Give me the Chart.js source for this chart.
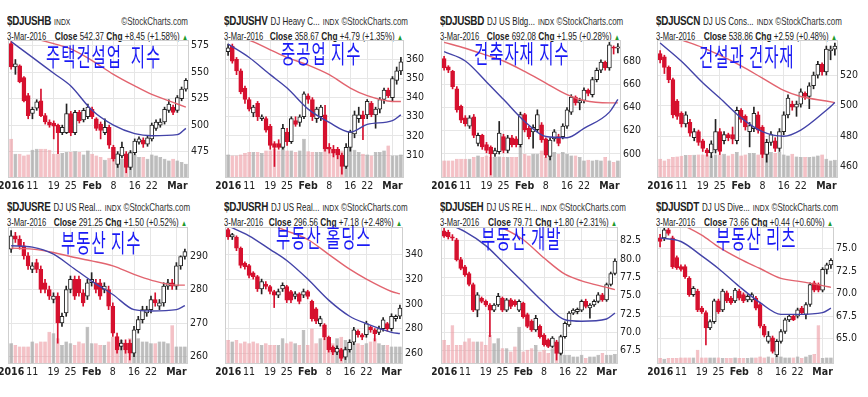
<!DOCTYPE html>
<html>
<head>
<meta charset="utf-8">
<script src="https://cdn.jsdelivr.net/npm/chart.js@4.4.0/dist/chart.umd.min.js"></script>
<style>
  body { margin: 0; background: #fff; width: 868px; height: 397px; overflow: hidden; position: relative;
         font-family: 'Liberation Sans', Arial, sans-serif; color: #222; }
  canvas { position: absolute; }
  .hd { position: absolute; transform: scaleX(0.76); transform-origin: left top; }
  .hd1, .hd2 { display: flex; justify-content: space-between; align-items: baseline; white-space: nowrap; }
  .hd1 { line-height: 14px; }
  .hd2 { line-height: 12px; font-size: 10.5px; margin-top: 1px; }
  .sym { font-weight: bold; font-size: 13px; letter-spacing: -0.4px; }
  .nm { font-size: 10.5px; margin-left: 4px; }
  .idx { font-size: 9px; margin-left: 4px; }
  .sc { font-size: 10.5px; color: #333; margin-left: 3px; }
  .dt { font-size: 10px; margin-right: 4px; }
  .hd2 b { font-size: 11px; }
  .up { color: #1f9a2a; font-size: 8px; }
  .kor { position: absolute; color: #1a1af5; font-family: 'Noto Sans CJK KR', sans-serif; font-size: 25px; font-weight: 400;
         line-height: 25px; letter-spacing: 1.5px; white-space: pre; transform: scaleX(0.62); transform-origin: left top; }
</style>
</head>
<body>
<script>
// trading days, 4 Jan 2016 .. 3 Mar 2016
const days = ['01-04','01-05','01-06','01-07','01-08','01-11','01-12','01-13','01-14','01-15',
  '01-19','01-20','01-21','01-22','01-25','01-26','01-27','01-28','01-29',
  '02-01','02-02','02-03','02-04','02-05','02-08','02-09','02-10','02-11','02-12',
  '02-16','02-17','02-18','02-19','02-22','02-23','02-24','02-25','02-26','02-29',
  '03-01','03-02','03-03'];
const tickDays = ['01-04','01-11','01-19','01-25','02-01','02-08','02-16','02-22','03-01'];
const tickTexts = ['2016','11','19','25','Feb','8','16','22','Mar'];
const maDays = ['01-04','01-11','01-19','01-25','02-01','02-08','02-16','02-22','03-01','03-03'];

// candles are [open, high, low, close]
const hbCandles = [[577,579,553,555],[555,562,548,558],[556,557,540,541],[545,546,522,523],[528,530,506,509],
  [511,517,506,515],[516,524,514,522],[523,534,508,509],[509,511,501,503],[503,505,498,500],
  [502,504,487,499],[500,501,473,493],[493,500,491,498],[493,520,492,511],
  [511,513,490,493],[493,514,491,512],[512,514,502,504],[505,516,503,514],[508,520,506,517],
  [515,517,506,508],[506,507,495,497],[501,503,487,495],[493,506,491,498],[498,500,478,481],
  [479,481,466,468],[463,475,460,473],[471,484,469,479],[473,475,455,460],[460,476,458,474],
  [474,487,472,485],[484,489,482,487],[486,488,479,482],[482,490,480,488],
  [487,502,485,500],[497,505,495,503],[500,506,498,503],[503,517,501,515],[514,524,512,520],
  [517,519,510,512],[514,528,512,526],[525,536,523,534],[534,544,532,542.4]];
const hbVolume = [115,70,70,65,68,82,85,85,85,82,70,70,72,75,75,78,75,68,80,70,65,60,52,58,55,60,55,50,60,68,60,60,55,68,65,60,55,50,55,50,45,40];
const hbMaBlue = [579,564,549,537,514,500,492,490,491,497];
const hbMaRed = [585,582,577,572,561,548,537,529,520,517];
const hbTicks = [475,500,525,550,575];

const hvCandles = [[364,368,362,366],[367,368,358,359],[360,361,352,354],[354,355,342,343],[345,346,337,339],
  [339,340,333,334],[332,336,330,335],[337,338,328,330],[329,331,328,330],[329,330,322,323],
  [325,326,313,315],[316,317,304,314],[316,318,313,314],[314,326,313,324],
  [322,324,315,317],[317,330,316,329],[328,330,325,326],[327,331,325,330],[330,343,329,342],
  [341,342,337,339],[339,340,328,330],[329,335,327,334],[330,336,328,335],[331,336,312,313],
  [314,316,311,313],[313,315,309,311],[313,314,308,310],[310,311,300,304],[304,316,303,314],
  [314,323,312,322],[321,333,319,331],[329,335,327,331],[331,333,318,329],
  [331,339,329,338],[337,338,330,331],[331,335,324,334],[334,340,332,339],[339,345,337,344],
  [344,345,340,341],[340,351,338,350],[349,356,347,354],[354,361,352,358.7]];
const hvVolume = [68,65,65,68,72,75,75,75,72,80,80,85,80,90,80,80,75,80,115,78,75,75,75,82,85,82,75,80,85,90,82,75,70,68,65,75,75,80,95,65,65,68];
const hvMaBlue = [368,361,352,345,334,327,322,326,328,331];
const hvMaRed = [372,370,365,361,357,352,345,341,338,338];
const hvTicks = [310,320,330,340,350,360];

const bdCandles = [[682,684,672,674],[675,676,670,672],[671,672,656,658],[656,658,636,638],[641,642,627,629],
  [631,633,624,626],[624,633,622,631],[632,634,614,616],[609,618,607,616],[616,617,604,606],
  [608,610,601,603],[606,607,582,600],[600,605,598,603],[602,628,600,618],
  [615,617,601,603],[603,616,601,614],[614,616,606,608],[613,615,606,608],[608,636,606,634],
  [634,635,619,621],[622,624,613,615],[619,625,605,623],[621,638,619,634],[625,627,610,612],
  [613,614,597,599],[598,614,595,612],[613,621,611,619],[615,617,607,609],[615,626,613,624],
  [624,640,622,638],[636,651,634,649],[649,650,642,644],[644,648,638,646],
  [646,657,644,655],[655,656,650,652],[651,666,649,664],[664,674,662,672],[672,681,670,679],
  [679,680,672,674],[674,696,672,694],[692,693,686,691],[691,695,687,692.1]];
const bdVolume = [50,50,50,55,55,55,55,60,65,60,65,60,60,62,60,60,60,60,95,70,65,70,70,80,60,65,75,70,75,70,65,65,60,50,52,50,52,50,60,50,45,50];
const bdMaBlue = [688,680,662,647,628,615,614,622,636,647];
const bdMaRed = [696,691,685,680,671,661,651,646,644,644];
const bdTicks = [600,620,640,660,680];

const cnCandles = [[534,536,528,530],[532,533,521,525],[525,526,515,517],[517,518,492,494],[503,504,491,493],
  [495,496,486,488],[488,496,486,494],[489,491,480,482],[479,485,477,483],[483,484,474,476],
  [477,478,470,472],[471,472,467,469],[469,477,466,475],[471,491,469,483],
  [483,485,468,470],[477,483,475,481],[481,482,477,479],[481,486,475,478],[477,499,475,497],
  [497,498,489,491],[493,494,484,486],[483,489,473,487],[485,499,483,495],[494,496,482,484],
  [486,487,466,468],[468,478,463,476],[476,483,474,481],[477,479,470,472],[472,485,470,483],
  [483,496,481,494],[494,507,492,505],[501,503,497,499],[499,503,493,501],
  [501,511,499,509],[508,509,504,506],[506,515,498,513],[513,522,511,520],[520,529,518,527],
  [527,528,520,522],[522,539,520,537],[536,539,530,537],[537,541,533,538.9]];
const cnVolume = [55,50,55,60,62,64,66,66,67,68,68,68,65,68,68,70,65,70,75,65,68,72,72,68,72,75,75,72,75,68,65,70,62,60,60,60,62,65,68,55,50,52];
const cnMaBlue = [541,529,515,505,492,483,480,484,497,502];
const cnMaRed = [548,543,538,533,526,518,510,506,503,502];
const cnTicks = [460,480,500,520];

const reCandles = [[292,297.5,291,296],[296,297,294,295],[295,296,292,293],[293,294,289,290],[290,291,286,287],
  [286,288,285,287],[288,289,285,286],[286,287,279,280],[282,283,279,280],[280,281,277,278],
  [277,279,276,278],[278,279,264,270],[270,273,269,272],[273,281,272,280],
  [280,284,279,283],[283,284,277,278],[283,284,278,279],[279,280,275,276],[278,283,277,282],
  [282,285,281,283],[282,283,279,280],[282,283,277,278],[280,282,279,281],[280,281,274,275],
  [275,276,266,267],[266,267,261,262],[263,265,262,264],[264,265,261,262],[264,265,259,261],
  [261,269,260,268],[268,272,267,271],[271,275,270,274],[273,275,272,274],
  [274,278,273,277],[277,279,275,276],[275,277,274,276],[276,282,275,281],[281,283,280,282],
  [282,283,280,281],[281,288,280,287],[287,290,286,289.8],[289.8,292,289,291.3]];
const reVolume = [60,55,50,50,50,65,60,65,65,95,90,75,55,65,60,55,65,60,110,60,60,55,55,65,80,65,70,60,75,65,75,65,65,60,60,65,65,60,115,50,50,50];
const reMaBlue = [293,292.6,290.5,287,282.5,278.5,274,273.6,274,275.2];
const reMaRed = [292.3,292,291,289.8,288.5,287,284.5,282.8,281.3,281.3];
const reTicks = [260,270,280,290];

const rhCandles = [[360,362,352,354],[354,357,352,356],[354,355,343,345],[345,346,329,331],[333,334,328,330],
  [331,332,321,323],[325,326,320,322],[322,323,310,312],[312,320,308,318],[316,318,312,314],
  [314,315,308,310],[310,311,297,307],[307,312,305,310],[312,317,310,315],
  [314,315,301,303],[310,311,301,303],[306,310,304,308],[308,309,300,302],[307,312,305,310],
  [310,311,304,306],[302,303,286,288],[296,297,284,286],[284,290,282,288],[283,284,271,273],
  [273,274,261,263],[265,266,259,261],[261,266,259,264],[263,264,254,256],[257,265,255,263],
  [263,271,261,269],[269,281,267,279],[278,279,273,275],[275,276,271,273],
  [275,286,273,284],[281,282,277,279],[279,280,270,276],[277,282,275,280],[280,289,278,287],
  [284,285,278,280],[280,292,278,290],[288,291,286,290],[290,299,288,296.6]];
const rhVolume = [70,65,70,60,65,60,65,60,55,60,55,55,55,75,60,65,60,55,100,55,105,60,75,75,75,60,75,80,70,65,60,60,55,60,65,75,60,55,55,50,50,50];
const rhMaBlue = [363,355,344,335,320,303,290,284,277,276];
const rhMaRed = [375,370,364,359,352,340,328,320,310,308];
const rhTicks = [260,280,300,320,340];

const ehCandles = [[83.8,84.3,82.9,83.1],[83.6,83.9,82.7,83.0],[83.0,83.3,82.5,82.8],[82.6,82.8,79.7,79.9],[79.9,80.2,78.5,78.7],
  [78.9,79.1,77.6,77.8],[78.0,78.2,76.3,76.5],[76.5,76.7,72.8,73.0],[73.0,75.4,72.1,75.1],[74.6,74.8,74.0,74.2],
  [74.2,74.4,73.5,73.7],[73.7,73.9,69.4,73.0],[73.0,73.9,72.8,73.7],[73.7,75.3,73.5,74.9],
  [74.6,74.8,72.8,73.0],[73.0,74.6,72.8,74.4],[74.4,74.6,73.2,73.5],[74.2,74.4,73.5,73.7],[73.0,74.4,72.8,74.2],
  [73.95,74.1,71.9,72.1],[72.4,72.6,70.6,70.8],[71.5,71.7,70.1,70.3],[70.3,72.3,70.1,71.9],[70.8,71.0,69.2,69.4],
  [69.6,69.8,68.1,68.3],[68.95,69.1,67.9,68.05],[68.05,69.4,67.9,69.2],[68.7,68.9,66.2,67.1],[67.1,69.6,66.9,69.4],
  [69.4,71.4,69.2,71.2],[71.0,72.8,70.8,72.6],[72.6,73.2,72.4,73.0],[72.8,73.3,72.5,73.1],
  [73.0,74.4,72.8,74.2],[74.2,74.5,73.3,73.5],[73.3,73.9,71.9,73.7],[73.7,74.4,73.5,74.2],[74.2,75.4,74.0,75.1],
  [75.1,75.3,74.2,74.4],[74.4,76.7,74.2,76.5],[76.5,78.2,76.3,78.0],[78.0,80.0,77.8,79.7]];
const ehVolume = [70,55,115,55,55,65,75,65,65,65,55,85,60,75,45,45,35,50,110,35,40,45,55,35,40,30,45,30,30,25,25,20,20,25,15,20,20,25,30,25,25,27];
const ehMaBlue = [85.0,83.7,81.8,79.6,76.8,74.0,71.7,71.5,71.8,72.6];
const ehMaRed = [87,86,85,84.2,82.6,80.1,77.9,77.0,76.1,75.8];
const ehTicks = [67.5,70,72.5,75,77.5,80,82.5];

const dtCandles = [[76.2,76.6,75.2,75.8],[76.2,77.3,75.9,77.1],[77.1,77.3,76.5,76.7],[76.2,76.4,72.8,73.0],[74.0,74.2,72.7,72.9],
  [73.0,73.2,72.5,72.7],[73.0,73.2,71.7,71.9],[71.7,71.9,69.7,69.9],[69.9,70.8,69.7,70.6],[70.3,70.5,68.0,68.2],
  [68.4,68.6,67.8,68.0],[67.9,68.1,64.3,66.2],[66.2,67.1,66.0,66.9],[66.9,69.4,66.7,69.2],
  [69.2,69.4,67.8,68.0],[68.2,70.5,68.0,70.3],[70.1,70.3,69.0,69.2],[69.5,69.7,68.8,69.0],[69.2,70.6,69.0,70.4],
  [70.3,70.5,69.3,69.5],[69.9,70.1,69.0,69.2],[69.3,69.9,69.1,69.7],[69.3,70.1,69.1,69.9],[69.5,69.7,68.2,68.4],
  [68.8,69.0,66.2,66.4],[66.4,66.6,65.2,65.4],[64.7,65.8,64.5,65.3],[65.1,65.3,63.4,63.6],[63.2,64.9,63.0,64.7],
  [64.7,66.0,64.5,65.8],[65.8,67.3,65.6,67.1],[67.1,67.7,66.9,67.5],[67.5,67.7,67.0,67.1],
  [67.5,68.4,67.3,68.2],[68.4,68.6,67.7,67.9],[67.7,69.0,67.2,68.8],[68.8,71.2,68.6,71.0],[71.2,71.4,70.2,70.4],
  [71.0,71.2,70.2,70.4],[70.4,72.9,70.2,72.7],[72.7,73.4,72.2,73.2],[73.2,73.9,72.8,73.7]];
const dtVolume = [15,13,15,15,15,17,17,17,17,40,17,17,17,17,17,15,15,15,17,15,15,15,17,17,20,17,20,17,23,20,17,17,17,20,15,20,25,27,115,15,17,17];
const dtMaBlue = [76.2,75.8,74.2,72.8,70.8,69.0,67.7,67.7,67.9,68.4];
const dtMaRed = [78.5,77.7,76.5,75.2,73.9,72.8,71.7,71.4,70.9,70.7];
const dtTicks = [65,67.5,70,72.5,75];

const panels = [
  { sym: '$DJUSHB', name: '', close: '542.37', chg: '+8.45 (+1.58%)', kor: '주택건설업  지수',
    candles: hbCandles, vol: hbVolume, blue: hbMaBlue, red: hbMaRed, ticks: hbTicks, min: 451, max: 579.5, dec: 0,
    plot: [9, 41, 179, 136], korAt: [46, 43] },
  { sym: '$DJUSHV', name: 'DJ Heavy C...', close: '358.67', chg: '+4.79 (+1.35%)', kor: '중공업 지수',
    candles: hvCandles, vol: hvVolume, blue: hvMaBlue, red: hvMaRed, ticks: hvTicks, min: 298.5, max: 369.6, dec: 0,
    plot: [226, 41, 177, 136], korAt: [281, 40] },
  { sym: '$DJUSBD', name: 'DJ US Bldg...', close: '692.08', chg: '+1.95 (+0.28%)', kor: '건축자재 지수',
    candles: bdCandles, vol: bdVolume, blue: bdMaBlue, red: bdMaRed, ticks: bdTicks, min: 580.2, max: 697.2, dec: 0,
    plot: [442, 41, 178, 136], korAt: [474, 40] },
  { sym: '$DJUSCN', name: 'DJ US Cons...', close: '538.86', chg: '+2.59 (+0.48%)', kor: '건설과 건자재',
    candles: cnCandles, vol: cnVolume, blue: cnMaBlue, red: cnMaRed, ticks: cnTicks, min: 453.3, max: 542.3, dec: 0,
    plot: [658, 41, 179, 136], korAt: [699, 43] },
  { sym: '$DJUSRE', name: 'DJ US Real...', close: '291.25', chg: '+1.50 (+0.52%)', kor: '부동산 지수',
    candles: reCandles, vol: reVolume, blue: reMaBlue, red: reMaRed, ticks: reTicks, min: 258.1, max: 298.3, dec: 0,
    plot: [9, 228, 178, 135], korAt: [61, 229] },
  { sym: '$DJUSRH', name: 'DJ US Real...', close: '296.56', chg: '+7.18 (+2.48%)', kor: '부동산 홀딩스',
    candles: rhCandles, vol: rhVolume, blue: rhMaBlue, red: rhMaRed, ticks: rhTicks, min: 252.2, max: 361.3, dec: 0,
    plot: [226, 228, 176, 135], korAt: [276, 224] },
  { sym: '$DJUSEH', name: 'DJ US RE H...', close: '79.71', chg: '+1.80 (+2.31%)', kor: '부동산 개발',
    candles: ehCandles, vol: ehVolume, blue: ehMaBlue, red: ehMaRed, ticks: ehTicks, min: 65.8, max: 84.2, dec: 1,
    plot: [442, 228, 175, 135], korAt: [481, 225] },
  { sym: '$DJUSDT', name: 'DJ US Dive...', close: '73.66', chg: '+0.44 (+0.60%)', kor: '부동산 리츠',
    candles: dtCandles, vol: dtVolume, blue: dtMaBlue, red: dtMaRed, ticks: dtTicks, min: 62.3, max: 77.3, dec: 1,
    plot: [658, 228, 175, 135], korAt: [716, 225] }
];

const FONT = "'DejaVu Sans Condensed', 'Liberation Sans Narrow', 'Liberation Sans', sans-serif";
const RED = '#d6102e';
const DARK = '#222';
const SQUEEZE = 0.76;

// light frame round the plot area
const frame = {
  id: 'frame',
  beforeDatasetsDraw(chart) {
    const a = chart.chartArea, ctx = chart.ctx;
    ctx.save();
    ctx.strokeStyle = '#cfcfcf';
    ctx.lineWidth = 1;
    ctx.strokeRect(Math.round(a.left) - 0.5, Math.round(a.top) - 0.5, Math.round(a.width) + 1, Math.round(a.height) + 1);
    ctx.restore();
  }
};

panels.forEach(p => {
  const [px, py, pw, ph] = p.plot;
  const lower = py > 100;

  // header lines, squeezed to look like the narrow original type
  const hd = document.createElement('div');
  hd.className = 'hd';
  hd.style.left = (px - 2) + 'px';
  hd.style.top = (lower ? 199 : 13) + 'px';
  hd.style.width = ((pw + 2) / SQUEEZE) + 'px';
  hd.innerHTML = '<div class="hd1"><span><span class="sym">' + p.sym + '</span>' +
    (p.name ? '<span class="nm">' + p.name + '</span>' : '') +
    '<span class="idx">INDX</span></span><span class="sc">©StockCharts.com</span></div>' +
    '<div class="hd2"><span class="dt">3-Mar-2016</span><span><b>Close</b> ' + p.close +
    ' <b>Chg</b> ' + p.chg + ' <span class="up">▲</span></span></div>';
  document.body.appendChild(hd);

  // chart
  const cv = document.createElement('canvas');
  cv.width = pw + 38;
  cv.height = ph + 18;
  cv.style.left = (px - 10) + 'px';
  cv.style.top = (py - 4) + 'px';
  document.body.appendChild(cv);

  const up = p.candles.map(c => c[3] >= c[0]);

  new Chart(cv, {
    type: 'bar',
    data: {
      labels: days,
      datasets: [
        { type: 'line', order: 0, data: maDays.map((d, i) => ({ x: d, y: p.blue[i] })),
          borderColor: '#4343a8', borderWidth: 1.4, pointRadius: 0, cubicInterpolationMode: 'monotone' },
        { type: 'line', order: 0, data: maDays.map((d, i) => ({ x: d, y: p.red[i] })),
          borderColor: '#e2646f', borderWidth: 1.4, pointRadius: 0, cubicInterpolationMode: 'monotone' },
        { order: 1, data: p.candles.map(c => [c[0], c[3]]), grouped: false, barThickness: 4,
          backgroundColor: up.map(u => u ? '#fff' : RED), borderColor: up.map(u => u ? DARK : RED),
          borderWidth: 1, borderSkipped: false },
        { order: 2, data: p.candles.map(c => [c[2], c[1]]), grouped: false, barThickness: 1,
          backgroundColor: up.map(u => u ? DARK : RED) },
        { order: 3, yAxisID: 'vol', data: p.vol, grouped: false, barPercentage: 0.88, categoryPercentage: 1,
          backgroundColor: up.map(u => u ? 'rgba(172,172,172,0.8)' : 'rgba(238,160,168,0.65)'),
          borderColor: up.map(u => u ? 'rgba(140,140,140,0.8)' : 'rgba(225,130,140,0.7)'), borderWidth: 0.5 }
      ]
    },
    options: {
      responsive: false,
      animation: false,
      events: [],
      layout: { padding: { left: 10, top: 4, right: 0, bottom: 0 } },
      plugins: { legend: { display: false }, tooltip: { enabled: false } },
      scales: {
        x: {
          offset: true,
          border: { display: false },
          grid: { offset: false, color: '#e6e6e6', drawTicks: false },
          afterBuildTicks: a => { a.ticks = a.ticks.filter(t => tickDays.includes(days[t.value])); },
          afterFit: s => { s.height = 14; s.paddingLeft = 0; s.paddingRight = 0; },
          ticks: {
            autoSkip: false, maxRotation: 0, padding: 3, color: DARK,
            callback: v => tickTexts[tickDays.indexOf(days[v])],
            font: ctx => {
              const t = tickTexts[tickDays.indexOf(days[ctx.tick ? ctx.tick.value : 0])];
              return { family: FONT, size: 10.5, weight: /^(2016|Feb|Mar)$/.test(t) ? 'bold' : 'normal' };
            }
          }
        },
        y: {
          position: 'right', min: p.min, max: p.max,
          border: { display: false },
          grid: { color: '#e6e6e6', drawTicks: false },
          afterBuildTicks: a => { a.ticks = p.ticks.map(v => ({ value: v })); },
          afterFit: s => { s.width = 28; s.paddingTop = 0; s.paddingBottom = 0; },
          ticks: { padding: 3, color: DARK, font: { family: FONT, size: 10.5 },
                   callback: v => v.toFixed(p.dec) }
        },
        vol: { display: false, min: 0, max: 410 }
      }
    },
    plugins: [frame]
  });

  const k = document.createElement('div');
  k.className = 'kor';
  k.textContent = p.kor;
  k.style.left = p.korAt[0] + 'px';
  k.style.top = p.korAt[1] + 'px';
  document.body.appendChild(k);
});
</script>
</body>
</html>
